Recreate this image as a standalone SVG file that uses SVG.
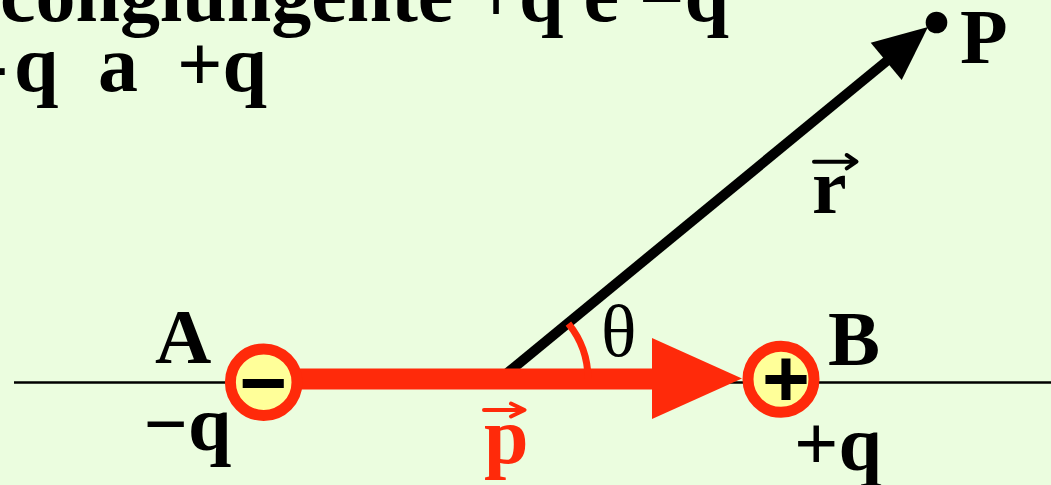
<svg xmlns="http://www.w3.org/2000/svg" width="1051" height="485" viewBox="0 0 1051 485">
  <style>
    .t { font-family: "Liberation Serif", "Times New Roman", serif; font-weight: bold; font-size: 80px; fill: #000; }
    .lbl { font-family: "Liberation Serif", "Times New Roman", serif; font-weight: bold; font-size: 78px; fill: #000; }
    .lbl.redtxt { fill: #FF2A0A; }
    .red { fill: #FF2A0A; }
    .ring { fill: #FFFF99; stroke: #FF2A0A; stroke-width: 11; }
    .sign { font-family: "Liberation Sans", Arial, sans-serif; font-weight: bold; font-size: 82px; fill: #000; text-anchor: middle; }
    .vec { fill: none; stroke-width: 4; stroke-linecap: round; stroke-linejoin: round; }
  </style>
  <rect width="1051" height="485" fill="#EBFDDF"/>

  <!-- title text -->
  <text class="t" x="0" y="21">congiungente <tspan dy="1">+</tspan><tspan dy="-1">q e </tspan><tspan dy="5">−</tspan><tspan dy="-5">q</tspan></text>
  <text class="t" x="-19" y="91">-</text>
  <text class="t" x="14" y="91">q</text>
  <text class="t" x="98" y="91">a</text>
  <text class="t" x="177" y="91">+q</text>

  <!-- axis line -->
  <line x1="14" y1="382.5" x2="1051" y2="382.5" stroke="#000" stroke-width="2.5"/>

  <g id="connectors">
    <!-- r vector -->
    <g id="vector-r">
      <line x1="500" y1="379" x2="888" y2="60" stroke="#000" stroke-width="10"/>
      <polygon points="870.7,42.7 901.7,80 928,27" fill="#000"/>
    </g>
    <!-- dipole moment p -->
    <g id="vector-p">
      <line x1="263" y1="379" x2="660" y2="379" stroke="#FF2A0A" stroke-width="21"/>
      <polygon class="red" points="652,338 652,419 742,378.5"/>
    </g>
    <!-- angle theta arc -->
    <path d="M 568.4 323.6 A 88 88 0 0 1 588 379" fill="none" stroke="#FF2A0A" stroke-width="7"/>
  </g>

  <g id="charge-A">
    <circle class="ring" cx="263.7" cy="382.2" r="33.3"/>
    <text class="sign" x="263.5" y="411">−</text>
  </g>

  <g id="charge-B">
    <circle class="ring" cx="781" cy="379.3" r="33"/>
    <text class="sign" x="786" y="406">+</text>
  </g>

  <g id="point-P">
    <circle cx="936.5" cy="22.5" r="10.8" fill="#000"/>
  </g>

  <!-- labels -->
  <text class="lbl" x="155" y="363">A</text>
  <text class="lbl" x="143.5" y="450">−q</text>
  <text class="lbl" x="828" y="365">B</text>
  <text class="lbl" x="794" y="470">+q</text>
  <text class="lbl" x="960" y="63">P</text>

  <text x="601" y="356" font-family="'Liberation Serif', 'Times New Roman', serif" font-size="74" fill="#000">θ</text>

  <g id="label-r">
    <text class="lbl" x="812" y="213">r</text>
    <path class="vec" stroke="#000" d="M 814 161.7 H 856 M 846.7 155 L 856.5 161.7 L 846.7 168.3"/>
  </g>
  <g id="label-p">
    <text class="lbl redtxt" x="484" y="463" style="font-size:80px">p</text>
    <path class="vec" stroke="#FF2A0A" d="M 484 410 H 524 M 511 403.5 L 524.5 410 L 511 416.5"/>
  </g>
</svg>
